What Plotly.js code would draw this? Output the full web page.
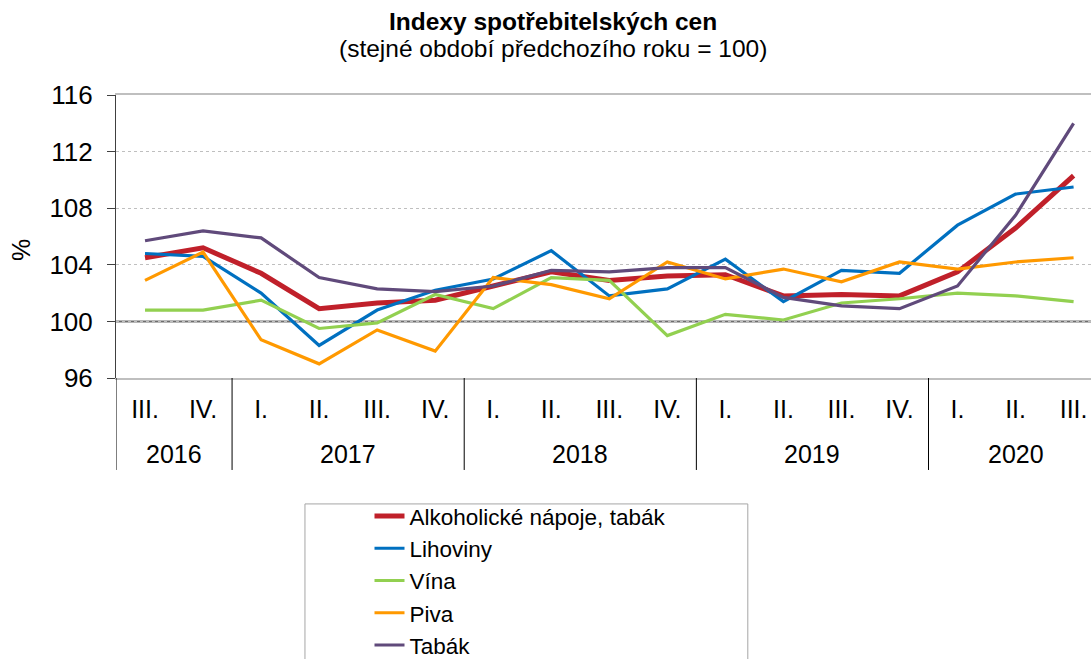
<!DOCTYPE html>
<html>
<head>
<meta charset="utf-8">
<script src="https://cdn.plot.ly/plotly-3.0.1.min.js"></script>
<style>html,body{margin:0;padding:0;background:#fff;}#chart{width:1091px;height:659px;}</style>
</head>
<body>
<div id="chart"></div>
<script>
// ---- data ----
const quarters = ['III.','IV.','I.','II.','III.','IV.','I.','II.','III.','IV.','I.','II.','III.','IV.','I.','II.','III.'];
const yearOfPoint = ['2016','2016','2017','2017','2017','2017','2018','2018','2018','2018','2019','2019','2019','2019','2020','2020','2020'];
const seriesNames = ['Alkoholické nápoje, tabák','Lihoviny','Vína','Piva','Tabák'];
const alkoholTabak = [104.5, 105.2, 103.4, 100.9, 101.3, 101.5, 102.5, 103.5, 102.9, 103.2, 103.3, 101.8, 101.9, 101.8, 103.5, 106.6, 110.3];
const lihoviny     = [104.8, 104.6, 102.0,  98.3, 100.8, 102.2, 103.0, 105.0, 101.8, 102.3, 104.4, 101.4, 103.6, 103.4, 106.8, 109.0, 109.5];
const vina         = [100.8, 100.8, 101.5,  99.5,  99.9, 101.9, 100.9, 103.1, 102.9,  99.0, 100.5, 100.1, 101.3, 101.6, 102.0, 101.8, 101.4];
const piva         = [102.9, 104.9,  98.7,  97.0,  99.4,  97.9, 103.1, 102.6, 101.6, 104.2, 103.0, 103.7, 102.8, 104.2, 103.7, 104.2, 104.5];
const tabak        = [105.7, 106.4, 105.9, 103.1, 102.3, 102.1, 102.5, 103.6, 103.5, 103.8, 103.8, 101.7, 101.1, 100.9, 102.5, 107.5, 114.0];
const yTicks = [96, 100, 104, 108, 112, 116];
const titleText = 'Indexy spotřebitelských cen';
const subtitleText = '(stejné období předchozího roku = 100)';

// ---- styling ----
const FONT = 'Liberation Sans, Arial, sans-serif';
const colors = ['#C0202A', '#0070C0', '#92D050', '#FF9900', '#604A7B'];
const widths = [5, 3.2, 3.2, 3.2, 3.2];
const allSeries = [alkoholTabak, lihoviny, vina, piva, tabak];
const idx = quarters.map((_, i) => i);

const traces = allSeries.map((vals, k) => ({
  type: 'scatter', mode: 'lines', x: idx, y: vals, name: seriesNames[k],
  line: {color: colors[k], width: widths[k], shape: 'linear'},
  hoverinfo: 'skip'
}));

// year groups derived from data
const groups = [];
yearOfPoint.forEach((y, i) => {
  if (!groups.length || groups[groups.length - 1].year !== y) groups.push({year: y, start: i, end: i});
  else groups[groups.length - 1].end = i;
});

const shapes = [
  {type: 'line', xref: 'paper', x0: 0, x1: 1, yref: 'y', y0: 100, y1: 100, line: {color: '#6E6E6E', width: 2}, layer: 'between'},
  // legend frame
  {type: 'rect', xref: 'paper', yref: 'paper', x0: 0.1938, x1: 0.648, y0: -0.445, y1: -1.5, line: {color: '#A6A6A6', width: 1}, fillcolor: 'rgba(0,0,0,0)'}
];
groups.forEach(g => {
  shapes.push({type: 'line', xref: 'x', yref: 'paper', x0: g.start - 0.5, x1: g.start - 0.5, y0: 0, y1: -0.325, line: {color: '#000', width: 1}});
});

const annotations = groups.map(g => ({
  xref: 'x', yref: 'paper', x: (g.start + g.end) / 2, y: -0.27, yanchor: 'middle', xanchor: 'center',
  text: g.year, showarrow: false, font: {family: FONT, size: 25, color: '#000'}
}));
annotations.push(
  {xref: 'paper', yref: 'paper', x: 0.448, y: 1.258, xanchor: 'center', yanchor: 'middle', text: '<b>' + titleText + '</b>', showarrow: false, font: {family: FONT, size: 24.5, color: '#000'}},
  {xref: 'paper', yref: 'paper', x: 0.448, y: 1.163, xanchor: 'center', yanchor: 'middle', text: subtitleText, showarrow: false, font: {family: FONT, size: 24.5, color: '#000'}},
  {xref: 'paper', yref: 'paper', x: -0.0974, y: 0.452, xanchor: 'center', yanchor: 'middle', text: '%', textangle: -90, showarrow: false, font: {family: FONT, size: 25, color: '#000'}}
);

const layout = {
  width: 1091, height: 659,
  margin: {l: 116, r: 0, t: 95, b: 281, pad: 0, autoexpand: false},
  paper_bgcolor: '#fff', plot_bgcolor: '#fff',
  font: {family: FONT, size: 24, color: '#000'},
  showlegend: true,
  legend: {x: 0.26, xanchor: 'left', y: -0.413, yanchor: 'top', font: {family: FONT, size: 22.5, color: '#000'},
           bgcolor: 'rgba(0,0,0,0)', borderwidth: 0, traceorder: 'normal'},
  xaxis: {
    range: [-0.5, 16.3], tickmode: 'array', tickvals: idx, ticktext: quarters,
    showgrid: false, zeroline: false, ticks: '', ticklabelstandoff: 8,
    showline: true, linecolor: '#BFBFBF', linewidth: 2, mirror: true,
    tickfont: {family: FONT, size: 25, color: '#000'}, fixedrange: true
  },
  yaxis: {
    range: [96, 116], tickmode: 'array', tickvals: yTicks,
    showgrid: true, gridcolor: '#BFBFBF', griddash: 'dot', gridwidth: 1,
    zeroline: false, showline: true, linecolor: '#404040', linewidth: 1,
    ticks: 'outside', ticklen: 8, tickcolor: '#404040', ticklabelstandoff: 9,
    tickfont: {family: FONT, size: 26, color: '#000'}, fixedrange: true
  },
  shapes: shapes,
  annotations: annotations
};

Plotly.newPlot('chart', traces, layout, {staticPlot: true, displayModeBar: false});
</script>
</body>
</html>
